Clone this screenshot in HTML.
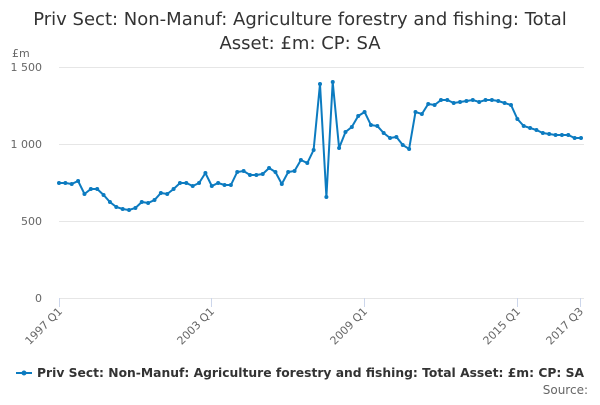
<!DOCTYPE html>
<html><head><meta charset="utf-8"><style>
body{margin:0;background:#fff;width:600px;height:400px;overflow:hidden;font-family:"Liberation Sans","DejaVu Sans",sans-serif}
</style></head><body>
<svg id="s" width="600" height="400" xmlns="http://www.w3.org/2000/svg" font-family="DejaVu Sans, Liberation Sans, sans-serif">
<text x="300" y="25" text-anchor="middle" font-size="18" fill="#333">Priv Sect: Non-Manuf: Agriculture forestry and fishing: Total</text>
<text x="300" y="49" text-anchor="middle" font-size="18" fill="#333">Asset: £m: CP: SA</text>
<text x="12" y="57" font-size="11" fill="#666">£m</text>
<g stroke="#e6e6e6" stroke-width="1">
<line x1="59" x2="584" y1="67.5" y2="67.5"/><line x1="59" x2="584" y1="144.5" y2="144.5"/>
<line x1="59" x2="584" y1="221.5" y2="221.5"/><line x1="59" x2="584" y1="298.5" y2="298.5"/>
</g>
<g font-size="11" fill="#666" text-anchor="end">
<text x="42" y="71">1 500</text><text x="42" y="148">1 000</text><text x="42" y="225">500</text><text x="42" y="302">0</text>
</g>
<g stroke="#ccd6eb" stroke-width="1">
<line x1="59.5" x2="59.5" y1="298" y2="307"/><line x1="211.5" x2="211.5" y1="298" y2="307"/>
<line x1="364.5" x2="364.5" y1="298" y2="307"/><line x1="517.5" x2="517.5" y1="298" y2="307"/>
<line x1="580.5" x2="580.5" y1="298" y2="307"/>
</g>
<g font-size="11" fill="#666" text-anchor="end">
<text transform="translate(63,312) rotate(-45)">1997 Q1</text>
<text transform="translate(215,312) rotate(-45)">2003 Q1</text>
<text transform="translate(368,312) rotate(-45)">2009 Q1</text>
<text transform="translate(521,312) rotate(-45)">2015 Q1</text>
<text transform="translate(584,312) rotate(-45)">2017 Q3</text>
</g>
<g id="ser"></g>
<line x1="16" x2="32" y1="373" y2="373" stroke="#0c7bc0" stroke-width="2"/>
<circle cx="24" cy="373" r="2.5" fill="#0c7bc0"/>
<text x="37" y="377" font-size="12.5" font-weight="bold" fill="#333" textLength="547" lengthAdjust="spacingAndGlyphs">Priv Sect: Non-Manuf: Agriculture forestry and fishing: Total Asset: £m: CP: SA</text>
<text x="588" y="394" text-anchor="end" font-size="12" fill="#666">Source:</text>
</svg>
<script>
var ys=[183,183,184,181,194,189,189,195,202,207,209,210,208,202,203,200,193,194,189,183,183,186,183,173,186,183,185,185,172,171,175,175,174,168,172,184,172,171,160,163,150,84,197,82,148,132,127,116,112,125,126,133,138,137,145,149,112,114,104,105,100,100,103,102,101,100,102,100,100,101,103,105,119,126,128,130,133,134,135,135,135,138,138];
var g=document.getElementById('ser'),ns='http://www.w3.org/2000/svg',pts=[];
ys.forEach(function(y,i){var x=59+i*6.366;pts.push(x.toFixed(1)+','+y);var c=document.createElementNS(ns,'circle');c.setAttribute('cx',x);c.setAttribute('cy',y);c.setAttribute('r',2);c.setAttribute('fill','#0c7bc0');g.appendChild(c);});
var p=document.createElementNS(ns,'polyline');p.setAttribute('points',pts.join(' '));p.setAttribute('fill','none');p.setAttribute('stroke','#0c7bc0');p.setAttribute('stroke-width',2);g.insertBefore(p,g.firstChild);
</script>
</body></html>
